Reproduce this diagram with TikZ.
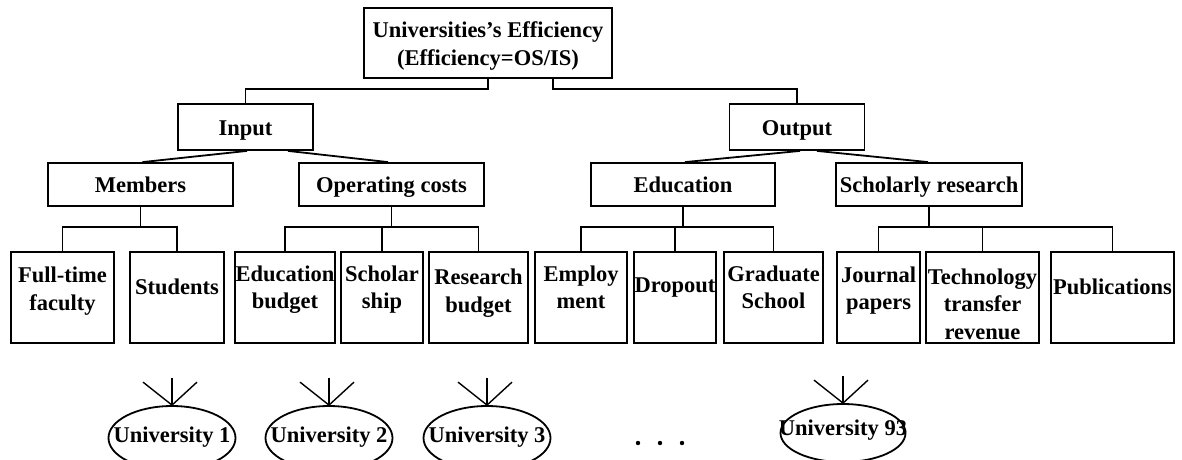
\documentclass[tikz,border=0pt]{standalone}
\usepackage{fontspec}
\setmainfont{Liberation Serif}
\usetikzlibrary{shapes.geometric}
\begin{document}
\begin{tikzpicture}[x=1pt,y=-1pt,
  font=\bfseries\fontsize{22.5}{27.5}\selectfont,
  line width=1.8pt,
  box/.style={draw, rectangle, inner sep=0pt, align=center},
  cbox/.style={box, text height=19pt, text depth=3pt},
  leaf/.style={box, minimum height=91},
  lbl/.style={align=center, inner sep=0pt},
  unode/.style={draw, ellipse, inner sep=0pt, minimum width=127, minimum height=64},
  fan/.style={line width=1.4pt}]
\useasboundingbox (0,0) rectangle (1182,459);
\fill[white] (0,0) rectangle (1182,459);
\clip (0,0) rectangle (1182,459);

% root
\node[box, minimum width=248, minimum height=70] (root) at (488,43) {};
\node[lbl] at ([yshift=-3pt]root.center)
  {Universities's Efficiency\\(Efficiency=OS/IS)};

% first level
\node[cbox, minimum width=135, minimum height=46] (input)  at (245.5,127) {Input};
\node[cbox, minimum width=135, minimum height=46] (output) at (797,127) {Output};

% second level
\node[cbox, minimum width=185, minimum height=43] (members) at (140.5,184.5) {Members};
\node[cbox, minimum width=185, minimum height=43] (opc)     at (391.5,184.5) {Operating costs};
\node[cbox, minimum width=184, minimum height=43] (edu)     at (683,184.5) {Education};
\node[cbox, minimum width=186, minimum height=43] (sch)     at (929,184.5) {Scholarly research};

% leaves (boxes 252..343)
\node[leaf, minimum width=103] (ft)  at (62.5,297.5) {};
\node[leaf, minimum width=94]  (st)  at (177,297.5) {};
\node[leaf, minimum width=100] (eb)  at (285,297.5) {};
\node[leaf, minimum width=82]  (ss)  at (382,297.5) {};
\node[leaf, minimum width=99]  (rb)  at (478.5,297.5) {};
\node[leaf, minimum width=92]  (em)  at (581,297.5) {};
\node[leaf, minimum width=82]  (dr)  at (675,297.5) {};
\node[leaf, minimum width=99]  (gs)  at (773.5,297.5) {};
\node[leaf, minimum width=83]  (jp)  at (878.5,297.5) {};
\node[leaf, minimum width=113] (tt)  at (982.5,297.5) {};
\node[leaf, minimum width=123] (pb)  at (1112.5,297.5) {};

\node[lbl] at (ft.center |- 0,291)   {Full-time\\faculty};
\node[lbl] at (st.center |- 0,287)   {Students};
\node[lbl] at (eb.center |- 0,289.5) {Education\\budget};
\node[lbl] at (ss.center |- 0,289.5) {Scholar\\ship};
\node[lbl] at (rb.center |- 0,293)   {Research\\budget};
\node[lbl] at (em.center |- 0,287.5) {Employ\\ment};
\node[lbl] at (dr.center |- 0,288)   {Dropout};
\node[lbl] at (gs.center |- 0,287.5) {Graduate\\School};
\node[lbl] at (jp.center |- 0,290.5) {Journal\\papers};
\node[lbl] at (tt.center |- 0,304)   {Technology\\transfer\\revenue};
\node[lbl] at (pb.center |- 0,287)   {Publications};

% root to first level
\draw (root.south) -- ++(0,10) -| (input.north);
\draw ([xshift=65pt]root.south) -- ++(0,10) -| (output.north);

% first level to second level
\draw ([xshift=1.5pt]input.south)   -- ([xshift=2pt]members.north);
\draw ([xshift=42.5pt]input.south)  -- ([xshift=-3.5pt]opc.north);
\draw ([xshift=3pt]output.south)    -- ([xshift=2pt]edu.north);
\draw ([xshift=20pt]output.south)   -- ([xshift=-1pt]sch.north);

% second level to leaves
\draw (members.south) -- (members.south |- 0,228);
\draw (ft.north) -- ++(0,-24) -| (st.north);

\draw (opc.south) -- (opc.south |- 0,228);
\draw (eb.north) -- ++(0,-24) -| (rb.north);
\draw (ss.north) -- ++(0,-24);

\draw (edu.south) -- (edu.south |- 0,228);
\draw (em.north) -- ++(0,-24) -| (gs.north);
\draw (dr.north) -- ++(0,-24);

\draw (sch.south) -- (sch.south |- 0,228);
\draw (jp.north) -- ++(0,-24) -| (pb.north);
\draw (tt.north) -- ++(0,-24);

% decision making units
\node[unode] (u1)  at (172,438) {};
\node[unode] (u2)  at (329,438) {};
\node[unode] (u3)  at (487,438) {};
\node[unode, minimum width=125, minimum height=58] (u93) at (843,433) {};
\node[lbl] at ([yshift=1pt]u1.center)  {University 1};
\node[lbl] at ([yshift=1pt]u2.center)  {University 2};
\node[lbl] at ([yshift=1pt]u3.center)  {University 3};
\node[lbl] at ([yshift=3pt]u93.center) {University 93};

\foreach \u in {u1,u2,u3,u93}{
  \coordinate (\u l) at ([shift={(-29,-23)}]\u.north);
  \coordinate (\u m) at ([shift={(0,-27)}]\u.north);
  \coordinate (\u r) at ([shift={(25,-23)}]\u.north);
  \draw[fan] (\u l) -- (\u.north);
  \draw[fan] (\u m) -- (\u.north);
  \draw[fan] (\u r) -- (\u.north);
}

% ellipsis between units
\foreach \x in {638,660,682}
  \fill (\x,443) circle (2.2);
\end{tikzpicture}
\end{document}
